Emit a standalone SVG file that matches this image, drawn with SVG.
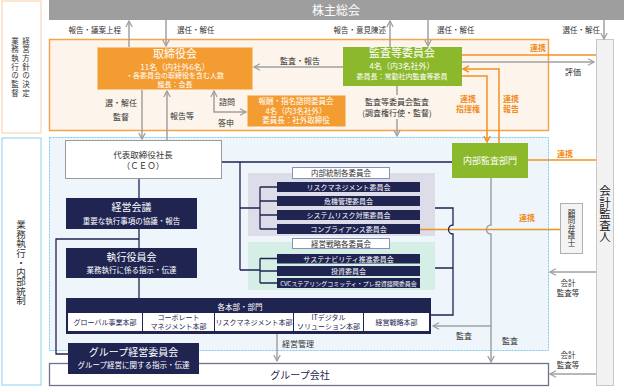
<svg xmlns="http://www.w3.org/2000/svg" width="624" height="387" viewBox="0 0 624 387">
<defs>
<style>
text{font-family:"Noto Sans CJK JP","Noto Sans",sans-serif;}
.lb{font-size:7.5px;fill:#333;}
.lbc{font-size:7.5px;fill:#333;text-anchor:middle;}
.or{font-size:8px;fill:#f08c1e;text-anchor:middle;font-weight:bold;}
.w{fill:#fff;text-anchor:middle;}
.nv{fill:#1f2451;}
.nvt{fill:#1f2451;text-anchor:middle;font-size:7px;}
.bar{fill:#1f2451;}
.bt{fill:#fff;text-anchor:middle;font-size:7px;}
.g{stroke:#a0a0a0;stroke-width:1.5;fill:none;}
.o{stroke:#f39020;stroke-width:1.5;fill:none;}
.n{stroke:#1f2451;stroke-width:1.3;fill:none;}
.vt{writing-mode:vertical-rl;fill:#333;}
</style>
<marker id="ag" viewBox="0 0 8 8" refX="7" refY="4" markerWidth="8" markerHeight="8" markerUnits="userSpaceOnUse" orient="auto-start-reverse">
<path d="M1,0.8 L7,4 L1,7.2" fill="none" stroke="#a0a0a0" stroke-width="1.3"/>
</marker>
<marker id="ao" viewBox="0 0 8 8" refX="7" refY="4" markerWidth="8" markerHeight="8" markerUnits="userSpaceOnUse" orient="auto-start-reverse">
<path d="M1,0.8 L7,4 L1,7.2" fill="none" stroke="#f39020" stroke-width="1.5"/>
</marker>
</defs>
<rect width="624" height="387" fill="#fff"/>

<!-- regions -->
<g id="regions">
<rect x="2" y="1" width="39" height="132" fill="#fff" stroke="#f8cfa6" stroke-width="1"/>
<rect x="2" y="138" width="39" height="247" fill="#fff" stroke="#8fd0ec" stroke-width="1"/>
<rect x="49.5" y="39.5" width="499" height="91" fill="#fdf5ec" stroke="#f5a44e" stroke-width="1.5"/>
<rect x="49.5" y="137.5" width="499" height="213" fill="#eef6fc" stroke="#7ccbea" stroke-width="1" stroke-dasharray="2,1"/>
<rect x="248" y="173" width="187" height="63" fill="#dcdde9"/>
<rect x="248" y="242" width="187" height="48" fill="#d5eee6"/>
</g>

<g id="left-labels">
<text class="vt" x="26" y="37" style="font-size:7.5px;letter-spacing:1.2px">経営方針の決定</text>
<text class="vt" x="15" y="37" style="font-size:7.5px;letter-spacing:1.2px">業務執行の監督</text>
<text class="vt" x="21" y="220" style="font-size:9.5px">業務執行・内部統制</text>
</g>

<g id="shareholders">
<rect x="49" y="0" width="575" height="20" fill="#9e9e9e"/>
<text class="w" x="336" y="15" style="font-size:12px">株主総会</text>
</g>

<g id="auditor">
<rect x="596.5" y="39.5" width="17" height="346" fill="#f2f2f2" stroke="#c8c8c8"/>
<text class="vt" x="605" y="185" style="font-size:11.5px;fill:#222">会計監査人</text>
</g>

<!-- connectors -->
<g id="connectors">
<path class="g" d="M129,47 V21" marker-end="url(#ag)"/>
<path class="g" d="M166,20 V46" marker-end="url(#ag)"/>
<path class="g" d="M390,47 V21" marker-end="url(#ag)"/>
<path class="g" d="M428,20 V46" marker-end="url(#ag)"/>
<path class="g" d="M604,20 V39" marker-end="url(#ag)"/>
<path class="g" d="M343,67 H254" marker-end="url(#ag)"/>
<path class="g" d="M142,90 V139" marker-end="url(#ag)"/>
<path class="g" d="M167,140 V91" marker-end="url(#ag)"/>
<path class="g" d="M214,91 V112 H246" marker-start="url(#ag)" marker-end="url(#ag)"/>
<path class="g" d="M397,86 V136" marker-end="url(#ag)"/>
<path class="g" d="M462,62 H594" marker-end="url(#ag)"/>
<path class="o" d="M462,55 H596"/>
<path class="o" d="M499,143 V69 H463" marker-end="url(#ao)"/>
<path class="o" d="M462,76 H487 V142" marker-end="url(#ao)"/>
<path class="o" d="M528,160 H596"/>
<path class="o" d="M420,229.5 H560"/>
<path class="n" d="M222,162 H452 M240,162 V270 M240,208 H260 M240,270 H260"/>
<path class="n" d="M260,187 V229 M260,187 H277 M260,201 H277 M260,215 H277 M260,229 H277"/>
<path class="n" d="M260,258.5 V283 M260,258.5 H277 M260,271 H277 M260,283 H277"/>
<path class="n" d="M139,179 V298 M139,239 H56 V354 H68"/>
<path class="n" d="M435,208 H453 V225 A4.5,4.5 0 0 0 453,234 V315 H431 M435,268 H453"/>
<path class="g" d="M491,178 V225 A4.5,4.5 0 0 0 491,234 V362" marker-end="url(#ag)"/>
<path class="g" d="M491,326 H433" marker-end="url(#ag)"/>
<path class="g" d="M277,334 V361" marker-end="url(#ag)"/>
<path class="g" d="M596,272 H550" marker-end="url(#ag)"/>
<path class="g" d="M596,374 H550" marker-end="url(#ag)"/>
</g>

<g id="connector-labels">
<text class="lb" x="121" y="33" text-anchor="end">報告・議案上程</text>
<text class="lb" x="177" y="33">選任・解任</text>
<text class="lb" x="386" y="33" text-anchor="end">報告・意見陳述</text>
<text class="lb" x="437" y="33">選任・解任</text>
<text class="lb" x="600" y="33" text-anchor="end">選任・解任</text>
<text class="lbc" x="300" y="64" style="font-size:8px">監査・報告</text>
<text class="or" x="538" y="51">連携</text>
<text class="lbc" x="573" y="75" style="font-size:8px">評価</text>
<text class="or" x="468" y="102">連携</text>
<text class="or" x="468" y="112">指揮権</text>
<text class="or" x="511" y="102">連携</text>
<text class="or" x="511" y="112">報告</text>
<rect x="360" y="95" width="74" height="24" fill="#fdf5ec"/>
<text class="lbc" x="397" y="105" style="font-size:8px">監査等委員会監査</text>
<text class="lbc" x="397" y="116" style="font-size:8px">(調査権行使・監督)</text>
<text class="lbc" x="121" y="106" style="font-size:8px">選・解任</text>
<text class="lbc" x="121" y="120" style="font-size:8px">監督</text>
<text class="lb" x="170" y="119" style="font-size:8px">報告等</text>
<text class="lb" x="219" y="105" style="font-size:8px">諮問</text>
<text class="lb" x="218" y="126" style="font-size:8px">答申</text>
<text class="lb" x="282" y="347" style="font-size:8px">経営管理</text>
<text class="or" x="565" y="157">連携</text>
<text class="or" x="527" y="221">連携</text>
<text class="lbc" x="568" y="286">会計</text>
<text class="lbc" x="568" y="296">監査等</text>
<text class="lbc" x="568" y="358">会計</text>
<text class="lbc" x="568" y="368">監査等</text>
<text class="lbc" x="464" y="339" style="font-size:8px">監査</text>
<text class="lbc" x="510" y="344" style="font-size:8px">監査</text>
</g>

<g id="board">
<rect x="97.5" y="47.5" width="155" height="42" fill="#f39c32" stroke="#f9c88a" stroke-dasharray="2,1"/>
<text class="w" x="175" y="57.5" style="font-size:11px">取締役会</text>
<text class="w" x="175" y="69.5" style="font-size:8px">11名（内社外6名）</text>
<text class="w" x="175" y="78" style="font-size:7px">・各委員会の取締役を含む人数</text>
<text class="w" x="175" y="87" style="font-size:7px">議長：会長</text>
</g>

<g id="audit-committee">
<rect x="343" y="47" width="119" height="39" fill="#8cb92c"/>
<text class="w" x="402" y="57" style="font-size:11px">監査等委員会</text>
<text class="w" x="402" y="69" style="font-size:8px">4名（内3名社外）</text>
<text class="w" x="402" y="79" style="font-size:7px">委員長：常勤社内監査等委員</text>
</g>

<g id="nomination-committee">
<rect x="247.5" y="95.5" width="98" height="31" fill="#f39c32" stroke="#f9c88a" stroke-dasharray="2,1"/>
<text class="w" x="296" y="104" style="font-size:7.5px">報酬・指名諮問委員会</text>
<text class="w" x="296" y="113.5" style="font-size:7.5px">4名（内3名社外）</text>
<text class="w" x="296" y="123" style="font-size:7.5px">委員長：社外取締役</text>
</g>

<g id="ceo">
<rect x="65.5" y="140.5" width="156" height="38" fill="#fff" stroke="#9a9a9a"/>
<text x="143" y="158" text-anchor="middle" style="font-size:8.5px;fill:#333">代表取締役社長</text>
<text x="143" y="169" text-anchor="middle" style="font-size:8.5px;fill:#333">（ＣＥＯ）</text>
</g>

<g id="management-meeting">
<rect x="66" y="198" width="131" height="31" class="nv"/>
<text class="w" x="131.5" y="211" style="font-size:10px">経営会議</text>
<text class="w" x="131.5" y="224" style="font-size:7.5px">重要な執行事項の協議・報告</text>
</g>

<g id="executive-officers">
<rect x="66" y="248" width="131" height="30" class="nv"/>
<text class="w" x="131.5" y="261" style="font-size:10px">執行役員会</text>
<text class="w" x="131.5" y="273" style="font-size:7.5px">業務執行に係る指示・伝達</text>
</g>

<g id="divisions">
<rect x="66" y="298" width="365" height="36" class="nv"/>
<text class="w" x="240" y="310" style="font-size:7.5px">各本部・部門</text>
<rect x="68" y="313" width="74" height="18" fill="#fff"/>
<rect x="143" y="313" width="71" height="18" fill="#fff"/>
<rect x="215" y="313" width="78" height="18" fill="#fff"/>
<rect x="294" y="313" width="69" height="18" fill="#fff"/>
<rect x="364" y="313" width="65" height="18" fill="#fff"/>
<text class="nvt" x="105" y="324.5">グローバル事業本部</text>
<text class="nvt" x="178.5" y="320">コーポレート</text>
<text class="nvt" x="178.5" y="329">マネジメント本部</text>
<text class="nvt" x="254" y="324.5">リスクマネジメント本部</text>
<text class="nvt" x="328.5" y="320">ITデジタル</text>
<text class="nvt" x="328.5" y="329">ソリューション本部</text>
<text class="nvt" x="396.5" y="324.5">経営戦略本部</text>
</g>

<g id="group-companies">
<rect x="49.5" y="363.5" width="499" height="22" fill="#fff" stroke="#6e7190" stroke-width="1.3"/>
<text x="300" y="379" text-anchor="middle" style="font-size:10px;fill:#1f2451">グループ会社</text>
</g>

<g id="group-committee">
<rect x="68" y="343" width="131" height="31" class="nv"/>
<text class="w" x="133.5" y="356" style="font-size:10px">グループ経営委員会</text>
<text class="w" x="133.5" y="368" style="font-size:7.5px">グループ経営に関する指示・伝達</text>
</g>

<g id="internal-control">
<rect x="292.5" y="167.5" width="97" height="11" fill="#fff" stroke="#8a92b8"/>
<text x="341" y="176" text-anchor="middle" style="font-size:7.5px;fill:#333">内部統制各委員会</text>
<rect x="277" y="182" width="143" height="10" class="bar"/>
<rect x="277" y="196" width="143" height="10" class="bar"/>
<rect x="277" y="210" width="143" height="10" class="bar"/>
<rect x="277" y="224" width="143" height="10" class="bar"/>
<text class="bt" x="348.5" y="189.5">リスクマネジメント委員会</text>
<text class="bt" x="348.5" y="203.5">危機管理委員会</text>
<text class="bt" x="348.5" y="217.5">システムリスク対策委員会</text>
<text class="bt" x="348.5" y="231.5">コンプライアンス委員会</text>
</g>

<g id="strategy">
<rect x="292.5" y="238.5" width="97" height="10" fill="#fff" stroke="#8a92b8"/>
<text x="341" y="246.5" text-anchor="middle" style="font-size:7.5px;fill:#333">経営戦略各委員会</text>
<rect x="277" y="254" width="143" height="9.5" class="bar"/>
<rect x="277" y="266" width="143" height="10" class="bar"/>
<rect x="277" y="278" width="143" height="10" class="bar"/>
<text class="bt" x="348.5" y="261.5">サステナビリティ推進委員会</text>
<text class="bt" x="348.5" y="273.5">投資委員会</text>
<text class="bt" x="348.5" y="285.5" style="font-size:6px">CVCステアリングコミッティ・プレ投資諮問委員会</text>
</g>

<g id="internal-audit">
<rect x="452" y="143" width="76" height="35" fill="#8cb92c"/>
<text class="w" x="490" y="164" style="font-size:9px">内部監査部門</text>
</g>

<g id="lawyer">
<rect x="560.5" y="203.5" width="22" height="50" fill="#f4f4f4" stroke="#b0b0b0"/>
<text class="vt" x="571.5" y="209" style="font-size:7.5px">顧問弁護士</text>
</g>
</svg>
